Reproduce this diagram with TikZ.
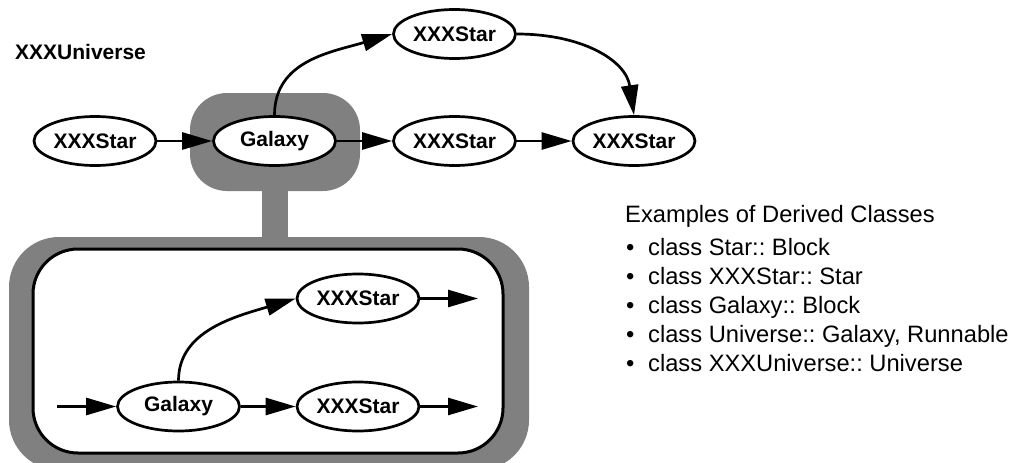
\documentclass[tikz,border=0pt]{standalone}
\usepackage{fontspec}
\setmainfont{Liberation Sans}
\usetikzlibrary{shapes.geometric,arrows.meta}
\definecolor{framegray}{RGB}{128,128,128}
\frenchspacing
\begin{document}
\begin{tikzpicture}[x=1pt,y=-1pt,
  star/.style={ellipse,draw,line width=2.7pt,fill=white,minimum width=122pt,minimum height=49pt,inner sep=0pt,font=\fontsize{21}{25}\selectfont\bfseries},
  conn/.style={line width=2.7pt,-{Triangle[length=30pt,width=17pt]}},
  txt/.style={anchor=base west,inner sep=0pt,font=\fontsize{23.7}{28}\selectfont}]
\useasboundingbox (0,0) rectangle (1013,463);
% gray hierarchy frames
\fill[framegray, rounded corners=37pt] (190,93) rectangle (360,191);
\fill[framegray] (262,185) rectangle (288,242);
\fill[framegray, rounded corners=50pt] (9,237) rectangle (529,470);
\draw[line width=3pt, fill=white, rounded corners=45pt] (33,249) rectangle (503,453);
% title
\node[anchor=base west,inner sep=0pt,font=\fontsize{21}{25}\selectfont\bfseries] (title) at (15,59) {XXXUniverse};
% top level nodes
\node[star] (ls) at (95,141) {XXXStar};
\node[star] (g) at (274.5,141) {Galaxy};
\node[star] (ms) at (454.5,141) {XXXStar};
\node[star] (ts) at (454.5,34) {XXXStar};
\node[star] (rs) at (634,141) {XXXStar};
% inner nodes
\node[star] (ig) at (178.5,406.5) {Galaxy};
\node[star] (its) at (358,298.5) {XXXStar};
\node[star] (ibs) at (358,406.5) {XXXStar};
\coordinate (in) at (57,406.5);
\coordinate (o1) at (478,298.5);
\coordinate (o2) at (478,406.5);
% connectors
\draw[conn] (ls) -- (g);
\draw[conn] (g) -- (ms);
\draw[conn] (ms) -- (rs);
\draw[conn] (g.north) .. controls +(0,-55) and +(-60,18) .. (ts.west);
\draw[conn] (ts.east) .. controls +(65,0) and +(-8,-55) .. (rs.north);
\draw[conn] (in) -- (ig);
\draw[conn] (ig) -- (ibs);
\draw[conn] (ig.north) .. controls +(0,-50) and +(-60,18) .. (its.west);
\draw[conn] (its) -- (o1);
\draw[conn] (ibs) -- (o2);
% legend text
\node[txt] (hd) at (625,222) {Examples of Derived Classes};
\node[txt] (i1) at (626,255) {\makebox[22pt][l]{•}class Star:: Block};
\node[txt] (i2) at (626,284) {\makebox[22pt][l]{•}class XXXStar:: Star};
\node[txt] (i3) at (626,313) {\makebox[22pt][l]{•}class Galaxy:: Block};
\node[txt] (i4) at (626,342) {\makebox[22pt][l]{•}class Universe:: Galaxy, Runnable};
\node[txt] (i5) at (626,371) {\makebox[22pt][l]{•}class XXXUniverse:: Universe};
\end{tikzpicture}
\end{document}
